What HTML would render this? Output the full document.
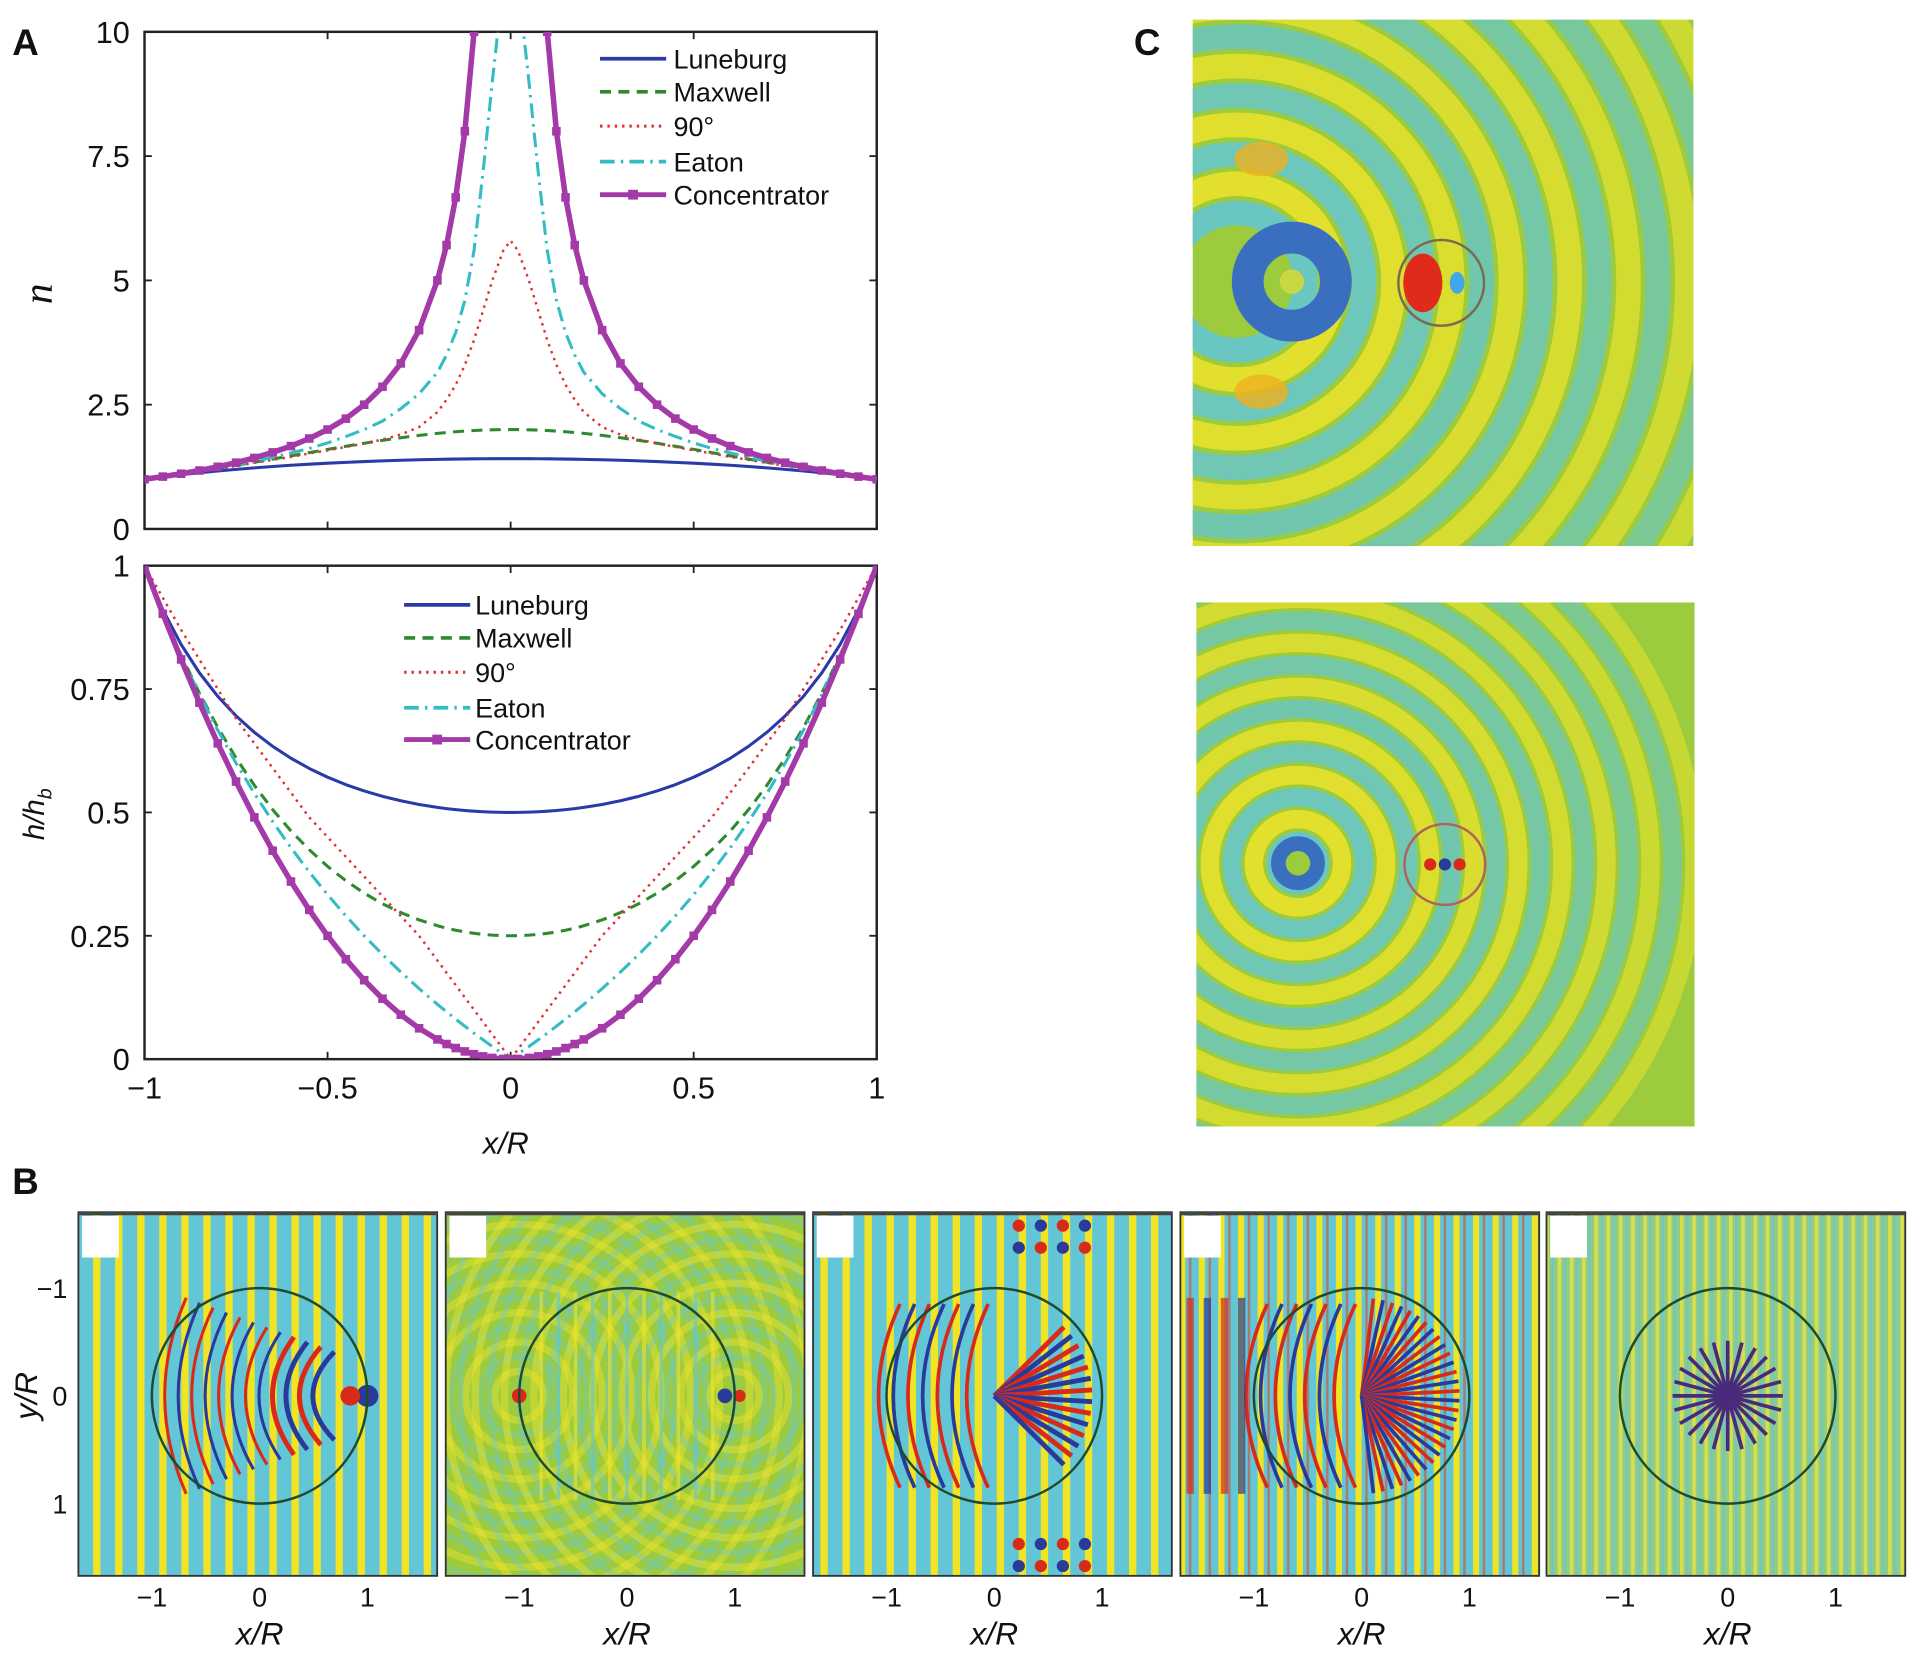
<!DOCTYPE html>
<html><head><meta charset="utf-8">
<style>
html,body{margin:0;padding:0;background:#fff;overflow:hidden;width:1920px;height:1653px;}
svg{display:block;font-family:"Liberation Sans",sans-serif;}
</style></head>
<body>
<svg id="fig" width="1920" height="1653" viewBox="0 0 1568 1350" xmlns="http://www.w3.org/2000/svg">
<defs>
  <clipPath id="clipTop"><rect x="118" y="26" width="598" height="406"/></clipPath>
  <clipPath id="clipBot"><rect x="118" y="462" width="598" height="403"/></clipPath>
  <clipPath id="clipC1"><rect x="974" y="16" width="409" height="430"/></clipPath>
  <clipPath id="clipC2"><rect x="977" y="492" width="407" height="428"/></clipPath>
  <pattern id="stripes" width="18" height="10" patternUnits="userSpaceOnUse">
    <rect width="18" height="10" fill="#62c6d6"/><rect x="4" width="6" height="10" fill="#f0e424"/>
  </pattern>
  <pattern id="stripes2" width="16" height="10" patternUnits="userSpaceOnUse">
    <rect width="16" height="10" fill="#62c6d6"/><rect x="3" width="5" height="10" fill="#f0e424"/><rect x="11" width="2" height="10" fill="#d84a2a" opacity="0.6"/>
  </pattern>
  <pattern id="fine" width="10" height="10" patternUnits="userSpaceOnUse">
    <rect width="10" height="10" fill="#92cc80"/><rect x="2" width="3" height="10" fill="#d6df50"/><rect x="7" width="2" height="10" fill="#72c6c4"/>
  </pattern>
</defs>
<g id="root"></g>
</svg>
<script>
// ===== Panel A data (half-domain r = |x/R|, mirrored) =====
const rGrid = [0,0.02,0.05,0.075,0.1,0.125,0.15,0.175,0.2,0.25,0.3,0.35,0.4,0.45,0.5,0.55,0.6,0.65,0.7,0.75,0.8,0.85,0.9,0.95,1];
const nLuneburg = [1.414,1.414,1.413,1.412,1.411,1.409,1.406,1.403,1.400,1.392,1.382,1.370,1.356,1.340,1.323,1.303,1.281,1.257,1.229,1.199,1.166,1.130,1.091,1.048,1];
const nMaxwell = [2,1.999,1.995,1.989,1.980,1.969,1.956,1.940,1.923,1.882,1.835,1.782,1.724,1.663,1.6,1.535,1.471,1.406,1.342,1.28,1.220,1.161,1.105,1.051,1];
const n90 = [5.8,5.6,5.0,4.4,3.8,3.3,2.9,2.6,2.35,2.05,1.9,1.8,1.72,1.65,1.58,1.52,1.45,1.39,1.33,1.27,1.2,1.15,1.1,1.05,1];
const nEaton = [12,11,9,7.2,5.6,4.6,3.95,3.5,3.15,2.72,2.42,2.17,2,1.86,1.73,1.62,1.53,1.44,1.36,1.29,1.22,1.16,1.11,1.05,1];
const nConc = [12,12,12,12,10,8,6.67,5.71,5,4,3.33,2.86,2.5,2.22,2,1.82,1.667,1.54,1.429,1.333,1.25,1.176,1.111,1.053,1];
const hLuneburg = [0.5,0.5001,0.5006,0.5014,0.5025,0.5039,0.5057,0.5077,0.5102,0.5161,0.5236,0.5326,0.5435,0.5563,0.5714,0.5891,0.6098,0.6339,0.6623,0.6957,0.7353,0.7828,0.8403,0.9107,1];
const hMaxwell = [0.25,0.2502,0.2513,0.2528,0.2550,0.2579,0.2613,0.2654,0.2704,0.2822,0.2970,0.3149,0.3364,0.3617,0.3906,0.4244,0.4624,0.5057,0.5550,0.6104,0.6724,0.7418,0.8190,0.9047,1];
const h90 = [0,0.02,0.05,0.075,0.1,0.125,0.15,0.175,0.2,0.25,0.29,0.33,0.37,0.41,0.45,0.49,0.54,0.59,0.64,0.69,0.75,0.81,0.87,0.935,1];
const hEaton = [0,0.0101,0.0256,0.039,0.0526,0.0667,0.0811,0.0959,0.1111,0.1429,0.1765,0.2121,0.25,0.2903,0.3333,0.3793,0.4286,0.4815,0.5385,0.6,0.6667,0.7391,0.8182,0.9048,1];
const hConc = [0,0.0004,0.0025,0.0056,0.01,0.0156,0.0225,0.0306,0.04,0.0625,0.09,0.1225,0.16,0.2025,0.25,0.3025,0.36,0.4225,0.49,0.5625,0.64,0.7225,0.81,0.9025,1];
const seriesNames = ["Luneburg","Maxwell","90°","Eaton","Concentrator"];
const nTicks = ["0","2.5","5","7.5","10"];
const nTickVals = [0,2.5,5,7.5,10];
const hTicks = ["0","0.25","0.5","0.75","1"];
const hTickVals = [0,0.25,0.5,0.75,1];
const xTicks = ["\u22121","\u22120.5","0","0.5","1"];
const xTickVals = [-1,-0.5,0,0.5,1];
const bTicks = ["\u22121","0","1"];
const bTickVals = [-1,0,1];

const NS="http://www.w3.org/2000/svg";
const root=document.getElementById('root');
function mk(tag,attrs,parent){const e=document.createElementNS(NS,tag);for(const k in attrs)e.setAttribute(k,attrs[k]);(parent||root).appendChild(e);return e;}
function txt(x,y,s,size,opts,parent){const e=mk('text',Object.assign({x:x,y:y,'font-size':size,fill:'#111'},opts||{}),parent);e.textContent=s;return e;}

const xs = v => 417 + v*299;
const yTop = v => 432 - v*40.6;
const yBot = v => 865 - v*403;

const styles=[
 {c:'#2a3aa8',w:2.5,d:''},
 {c:'#2e8a2e',w:2.5,d:'9,6'},
 {c:'#e03030',w:2,d:'2,4'},
 {c:'#33bcc4',w:2.5,d:'12,5,2,5'},
 {c:'#a33aa8',w:4.5,d:''}
];

function axes(y0,y1,yf,tickVals,tickLabels,name){
  const g=mk('g',{});
  
  
  mk('rect',{x:118,y:y0,width:598,height:y1-y0,fill:'none',stroke:'#222','stroke-width':2},g);
  tickVals.forEach((v,i)=>{
    const y=yf(v);
    mk('line',{x1:118,y1:y,x2:124,y2:y,stroke:'#222','stroke-width':1.5},g);
    mk('line',{x1:716,y1:y,x2:710,y2:y,stroke:'#222','stroke-width':1.5},g);
    const t=txt(106,y+9,tickLabels[i],25,{'text-anchor':'end'},g);
    
    
  });
  xTickVals.forEach(v=>{
    const x=xs(v);
    mk('line',{x1:x,y1:y1,x2:x,y2:y1-6,stroke:'#222','stroke-width':1.5},g);
    mk('line',{x1:x,y1:y0,x2:x,y2:y0+6,stroke:'#222','stroke-width':1.5},g);
  });
  return g;
}
function series(arrs,yf,clip,prefix){
  arrs.forEach((a,si)=>{
    const pts=[];
    for(let i=rGrid.length-1;i>=0;i--) pts.push([xs(-rGrid[i]),yf(a[i])]);
    for(let i=1;i<rGrid.length;i++) pts.push([xs(rGrid[i]),yf(a[i])]);
    const s=styles[si];
    const p=mk('polyline',{points:pts.map(q=>q.join(',')).join(' '),fill:'none',stroke:s.c,'stroke-width':s.w,'stroke-dasharray':s.d,'clip-path':'url(#'+clip+')','stroke-linejoin':'round'});
    
    
    if(si==4){
      const mg=mk('g',{'clip-path':'url(#'+clip+')'});
      
      
      pts.forEach(q=>mk('rect',{x:q[0]-3.5,y:q[1]-3.5,width:7,height:7,fill:s.c},mg));
    }
  });
}
function legend(lx,tx,ys,prefix){
  ys.forEach((y,i)=>{
    const g=mk('g',{});
    
    
    const s=styles[i];
    mk('line',{x1:lx,y1:y,x2:lx+54,y2:y,stroke:s.c,'stroke-width':Math.min(s.w+0.5,4),'stroke-dasharray':s.d},g);
    if(i==4) mk('rect',{x:lx+23,y:y-4,width:8,height:8,fill:s.c},g);
    txt(tx,y+8,seriesNames[i],22,{},g);
  });
}

axes(26,432,yTop,nTickVals,nTicks,'n-axes');
series([nLuneburg,nMaxwell,n90,nEaton,nConc],yTop,'clipTop','n');
legend(490,550,[48,75,103,132,159],'n');
axes(462,865,yBot,hTickVals,hTicks,'h-axes');
series([hLuneburg,hMaxwell,h90,hEaton,hConc],yBot,'clipBot','h');
legend(330,388,[494,521,549,578,604],'h');
xTickVals.forEach((v,i)=>{const t=txt(xs(v),897,xTicks[i],25,{'text-anchor':'middle'});});
let t;
t=txt(413,942,'x/R',25,{'text-anchor':'middle','font-style':'italic'});
t=txt(0,0,'n',34,{'font-style':'italic','font-family':'Liberation Serif, serif',transform:'translate(42,240) rotate(-90)','text-anchor':'middle'});
t=mk('text',{'font-size':24,'font-style':'italic',fill:'#111',transform:'translate(36,665) rotate(-90)','text-anchor':'middle'});
t.innerHTML='h/h<tspan font-size="16" dy="6">b</tspan>';

[['A',10,45],['B',10,975],['C',926,45]].forEach(a=>{const e=txt(a[1],a[2],a[0],30,{'font-weight':'bold'});});

// ===== Panel C =====
function fieldC(x,y,w,h,clip,cx,cy,step,r0,n,name){
  const g=mk('g',{'clip-path':'url(#'+clip+')'});
  
  
  mk('rect',{x:x,y:y,width:w,height:h,fill:'#9ccb3e'},g);
  for(let k=n;k>=0;k--){
    const r=r0+k*step;
    const op=0.85-0.04*k;
    mk('circle',{cx:cx,cy:cy,r:r,fill:'none',stroke:'#f0e42a','stroke-width':step*0.42,opacity:op},g);
    mk('circle',{cx:cx,cy:cy,r:r-step/2,fill:'none',stroke:'#62c6d8','stroke-width':step*0.42,opacity:op},g);
  }
  return g;
}
const c1=fieldC(974,16,409,430,'clipC1',1010,230,48,80,7,'field-map-top');
mk('circle',{cx:1055,cy:230,r:36,fill:'none',stroke:'#3a6fc0','stroke-width':26},c1);
mk('circle',{cx:1055,cy:230,r:10,fill:'#c8d840'},c1);
mk('ellipse',{cx:1030,cy:130,rx:22,ry:14,fill:'#f0b020',opacity:0.8},c1);
mk('ellipse',{cx:1030,cy:320,rx:22,ry:14,fill:'#f0b020',opacity:0.8},c1);
mk('ellipse',{cx:1162,cy:231,rx:16,ry:24,fill:'#e02a1a'},c1);
mk('ellipse',{cx:1190,cy:231,rx:6,ry:9,fill:'#40a8e8'},c1);
mk('circle',{cx:1177,cy:231,r:35,fill:'none',stroke:'#7a6a50','stroke-width':2},c1);
const c2=fieldC(977,492,407,428,'clipC2',1060,705,36,36,8,'field-map-bottom');
mk('circle',{cx:1060,cy:705,r:16,fill:'none',stroke:'#3a6fc0','stroke-width':12},c2);
[1168,1180,1192].forEach((x,i)=>mk('circle',{cx:x,cy:706,r:5,fill:i==1?'#2a3a9a':'#d82a1a'},c2));
mk('circle',{cx:1180,cy:706,r:33,fill:'none',stroke:'#b06060','stroke-width':2},c2);

// ===== Panel B =====
const bPanels=[64,364,664,964,1263];
const bFills=['url(#stripes)','#9ccb3e','url(#stripes)','url(#stripes2)','url(#fine)'];
bPanels.forEach((px,i)=>{
  const g=mk('g',{});
  
  
  const cid='clipB'+i;
  const cp=mk('clipPath',{id:cid},g); mk('rect',{x:px,y:990,width:293,height:297},cp);
  const inner=mk('g',{'clip-path':'url(#'+cid+')'},g);
  mk('rect',{x:px,y:990,width:293,height:297,fill:bFills[i]},inner);
  const cx=px+148, cy=1140;
  if(i==1){
    [cx-88,cx+88].forEach(sx=>{for(let r=20;r<260;r+=24){mk('circle',{cx:sx,cy:cy,r:r,fill:'none',stroke:'#f0e42a','stroke-width':6,opacity:0.45},inner);mk('circle',{cx:sx,cy:cy,r:r+12,fill:'none',stroke:'#66c8d4','stroke-width':5,opacity:0.35},inner);}});
    for(let k=-5;k<=5;k++){mk('line',{x1:cx+k*14,y1:cy-85,x2:cx+k*14,y2:cy+85,stroke:k%2?'#f0e42a':'#62c6d8','stroke-width':3,opacity:0.6},inner);}
    mk('circle',{cx:cx-88,cy:cy,r:6,fill:'#d82a1a'},inner);
    mk('circle',{cx:cx+80,cy:cy,r:6,fill:'#2a3a9a'},inner);
    mk('circle',{cx:cx+92,cy:cy,r:5,fill:'#d82a1a'},inner);
  }
  if(i==0){
    for(let k=0;k<12;k++){mk('path',{d:`M${cx-60+k*11},${cy-80+k*4} Q${cx-95+k*11},${cy} ${cx-60+k*11},${cy+80-k*4}`,fill:'none',stroke:k%2?'#2a3a9a':'#d82a1a','stroke-width':k>7?4:2.5},inner);}
    mk('circle',{cx:cx+88,cy:cy,r:9,fill:'#2a3a9a'},inner);mk('circle',{cx:cx+74,cy:cy,r:8,fill:'#d82a1a'},inner);
  }
  if(i==2||i==3){
    const nn=i==3?30:14;
    for(let k=0;k<nn;k++){const a=(k-(nn-1)/2)*(i==3?0.1:0.12);mk('line',{x1:cx,y1:cy,x2:cx+80*Math.cos(a),y2:cy+80*Math.sin(a),stroke:k%2?'#2a3a9a':'#d82a1a','stroke-width':i==3?3:4},inner);}
    for(let k=0;k<7;k++){mk('path',{d:`M${cx-5-k*12},${cy-75} Q${cx-40-k*12},${cy} ${cx-5-k*12},${cy+75}`,fill:'none',stroke:k%2?'#2a3a9a':'#d82a1a','stroke-width':3},inner);}
    if(i==2){for(let yy of [1010,1270]) for(let k=0;k<4;k++) for(let j=0;j<2;j++) mk('circle',{cx:cx+20+k*18,cy:yy+j*18-9,r:5,fill:(k+j)%2?'#2a3a9a':'#d82a1a'},inner);}
    if(i==3){for(let k=0;k<4;k++) mk('rect',{x:px+5+k*14,y:1060,width:6,height:160,fill:k%2?'#2a3a9a':'#d82a1a',opacity:0.7},inner);}
  }
  if(i==4){
    for(let k=0;k<24;k++){const a=k*Math.PI/12;mk('line',{x1:cx,y1:cy,x2:cx+45*Math.cos(a),y2:cy+45*Math.sin(a),stroke:'#4a2a7a','stroke-width':3},inner);}
  }
  mk('rect',{x:px+3,y:993,width:30,height:34,fill:'#fff'},inner);
  mk('rect',{x:px,y:990,width:293,height:297,fill:'none',stroke:'#333','stroke-width':1.5},g);
  mk('line',{x1:px,y1:991,x2:px+293,y2:991,stroke:'#444','stroke-width':3},g);
  mk('circle',{cx:cx,cy:cy,r:88,fill:'none',stroke:'#1e4a2e','stroke-width':2},g);
  bTickVals.forEach((v,j)=>{const e=txt(cx+v*88,1312,bTicks[j],22,{'text-anchor':'middle'},g);});
  const xl=txt(cx,1343,'x/R',26,{'text-anchor':'middle','font-style':'italic'},g);
  
});
bTickVals.forEach((v,j)=>{const e=txt(55,1140+v*88+8,bTicks[j],22,{'text-anchor':'end'});});
t=txt(0,0,'y/R',26,{'font-style':'italic',transform:'translate(30,1140) rotate(-90)','text-anchor':'middle'});

</script>
</body></html>
